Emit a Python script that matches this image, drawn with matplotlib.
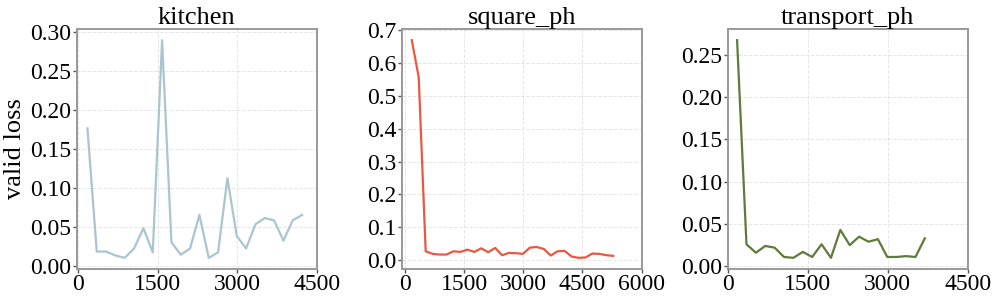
import numpy as np
import matplotlib
matplotlib.use("Agg")
import matplotlib.pyplot as plt

# ── data ──────────────────────────────────────────────────────
step = 176

kitchen_loss = [0.177, 0.019, 0.019, 0.014, 0.011, 0.023, 0.049, 0.018,
                0.290, 0.031, 0.015, 0.023, 0.066, 0.011, 0.018, 0.113,
                0.039, 0.023, 0.054, 0.062, 0.059, 0.033, 0.059, 0.066]

square_loss = [0.670, 0.557, 0.027, 0.019, 0.017, 0.017, 0.027, 0.025,
               0.032, 0.025, 0.036, 0.024, 0.037, 0.015, 0.022, 0.021,
               0.019, 0.038, 0.040, 0.034, 0.014, 0.027, 0.028, 0.011,
               0.007, 0.008, 0.020, 0.019, 0.015, 0.013]

transport_loss = [0.267, 0.026, 0.016, 0.024, 0.022, 0.011, 0.010, 0.017,
                  0.011, 0.026, 0.010, 0.043, 0.025, 0.035, 0.029, 0.032,
                  0.011, 0.011, 0.012, 0.011, 0.033]

titles = ["kitchen", "square_ph", "transport_ph"]
losses = [kitchen_loss, square_loss, transport_loss]
colors = ["#a9c5cf", "#ea5742", "#5f7a3a"]
x_right = [4500, 6000, 4500]
y_ticks = [np.arange(0, 0.31, 0.05), np.arange(0, 0.71, 0.1), np.arange(0, 0.26, 0.05)]
y_fmt = ["%.2f", "%.1f", "%.2f"]

plt.rcParams["font.family"] = ["Liberation Serif", "DejaVu Serif"]

fig = plt.figure(figsize=(9.97, 3.01), dpi=100)
lefts = [76.7, 401.7, 727.7]
width = 240.0
bottom, top = 268.7, 29.3

for i in range(3):
    ax = fig.add_axes([lefts[i] / 997, 1 - bottom / 301,
                       width / 997, (bottom - top) / 301])
    y = losses[i]
    x = step * np.arange(1, len(y) + 1)
    ax.plot(x, y, color=colors[i], lw=1.6)
    ax.set_xlim(right=x_right[i])
    ax.set_xticks(np.arange(0, x_right[i] + 1, 1500))
    ax.set_yticks(y_ticks[i])
    ax.yaxis.set_major_formatter(matplotlib.ticker.FormatStrFormatter(y_fmt[i]))
    ax.set_title(titles[i], fontsize=19, pad=2)
    ax.tick_params(labelsize=17, length=3, width=1, color="#555555", pad=1)
    ax.grid(True, ls="--", color="#e6e6e6", lw=0.7)
    for s in ax.spines.values():
        s.set_color("#999999")
        s.set_linewidth(1.4)
    if i == 0:
        ax.set_ylabel("valid loss", fontsize=19, labelpad=3)

fig.savefig("out.png", dpi=100)
